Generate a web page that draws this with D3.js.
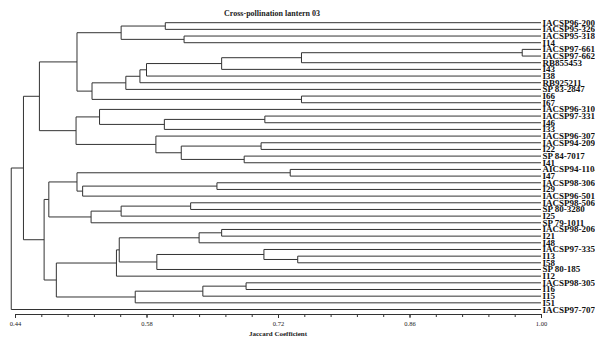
<!DOCTYPE html>
<html><head><meta charset="utf-8">
<script src="https://cdn.jsdelivr.net/npm/d3@7"></script>
<style>body{margin:0;background:#fff;overflow:hidden}</style>
</head><body><svg id="c" width="595" height="339"></svg>
<script>
// Leaf labels, top to bottom
const leafLabels = [
  "IACSP96-2008","IACSP95-3264","IACSP95-3181","I14","IACSP97-6610","IACSP97-6628",
  "RB855453","I43","I38","RB925211","SP 83-2847","I66","I67","IACSP96-3100",
  "IACSP97-3311","I46","I33","IACSP96-3079","IACSP94-2094","I22","SP 84-7017","I41",
  "AICSP94-1104","I47","IACSP98-3067","I29","IACSP96-5011","IACSP98-5060","SP 80-3280",
  "I25","SP 79-1011","IACSP98-2067","I21","I48","IACSP97-3354","I13","I58","SP 80-185",
  "I12","IACSP98-3051","I16","I15","I51","IACSP97-7077"
];
// Merge table (negative = leaf number, positive = earlier merge number)
const mergeLeft  = [-1,-3,1,-5,4,5,6,7,8,-12,9,3,-15,13,-14,-19,-21,16,-18,15,12,-23,-25,23,22,-28,26,27,25,-32,30,-36,-35,33,31,35,-40,37,38,36,29,21,42];
const mergeRight = [-2,-4,2,-6,-7,-8,-9,-10,-11,-13,10,11,-16,-17,14,-20,-22,17,18,19,20,-24,-26,-27,24,-29,-30,-31,28,-33,-34,-37,32,-38,34,-39,-41,-42,-43,39,40,41,-44];
const mergeHeight = [0.600,0.620,0.553,0.980,0.745,0.660,0.580,0.573,0.558,0.745,0.522,0.506,
  0.706,0.599,0.530,0.702,0.684,0.617,0.590,0.505,0.466,0.733,0.655,0.512,0.506,0.627,0.553,
  0.521,0.476,0.660,0.636,0.741,0.705,0.591,0.551,0.548,0.686,0.640,0.568,0.484,0.471,0.449,0.436];
const majorTicks = [0.44,0.58,0.72,0.86,1.00];
const minorStep = 0.028;
const titleText = "Cross-pollination lantern 03";
const axisTitle = "Jaccard Coefficient";

const svg = d3.select("#c");
const x = d3.scaleLinear().domain([0.44, 1.00]).range([15, 541]);
const y = d3.scalePoint().domain(leafLabels).range([22.7, 309.5]);

function ref(v){
  if (v < 0) return {name: leafLabels[-v-1], h: 1.0};
  return build(v-1);
}
function build(i){
  return {h: mergeHeight[i], children: [ref(mergeLeft[i]), ref(mergeRight[i])]};
}
const root = d3.hierarchy(build(mergeHeight.length-1));
root.eachAfter(n => {
  n.px = x(n.data.h);
  if (n.children) n.py = d3.mean(n.children, c => c.py);
  else n.py = y(n.data.name);
});

const g = svg.append("g");
let d = "";
root.each(n => {
  if (n.parent) d += `M${n.parent.px},${n.py}H${n.px}`;
  if (n.children) d += `M${n.px},${n.children[0].py}V${n.children[n.children.length-1].py}`;
});
g.append("path").attr("d", d).attr("fill","none").attr("stroke","#333").attr("stroke-width",1);

g.selectAll("text.leaf").data(root.leaves()).join("text")
  .attr("class","leaf")
  .attr("x", n => n.px + 1.5).attr("y", n => n.py + 3)
  .attr("font-family","Liberation Serif").attr("font-size",9).attr("font-weight","bold")
  .attr("fill","#111").text(n => n.data.name);

// axis
const minorTicks = d3.range(0, 21).map(i => +(0.44 + i*minorStep).toFixed(3));
const axY = 314;
const ax = svg.append("g").attr("transform",`translate(0,${axY})`)
  .call(d3.axisBottom(x).tickValues(minorTicks).tickSize(3).tickFormat(""));
const ax2 = svg.append("g").attr("transform",`translate(0,${axY})`)
  .call(d3.axisBottom(x).tickValues(majorTicks).tickSize(4).tickPadding(3).tickFormat(d3.format(".2f")));
ax2.select(".domain").remove();
svg.selectAll(".tick text").attr("font-family","Liberation Serif").attr("font-size",6.5).attr("fill","#222");
svg.selectAll(".domain, .tick line").attr("stroke","#333");

svg.append("text").attr("x",272).attr("y",16).attr("text-anchor","middle")
  .attr("font-family","Liberation Serif").attr("font-size",8).attr("font-weight","bold").attr("fill","#222")
  .text(titleText);
svg.append("text").attr("x",278).attr("y",336).attr("text-anchor","middle")
  .attr("font-family","Liberation Serif").attr("font-size",7).attr("font-weight","bold").attr("fill","#222")
  .text(axisTitle);
</script></body></html>
